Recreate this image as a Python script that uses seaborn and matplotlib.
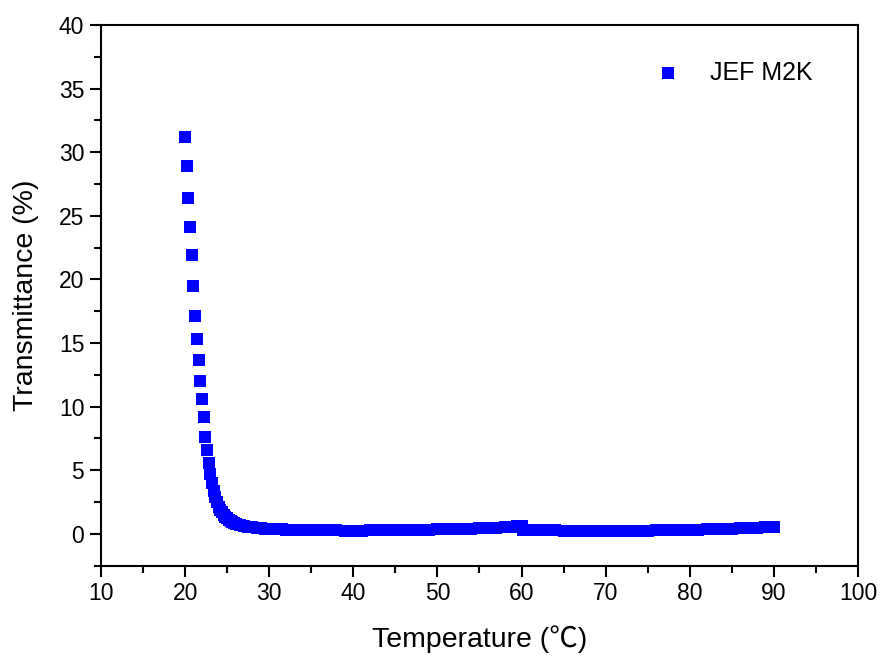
import pandas as pd
import seaborn as sns
import matplotlib.pyplot as plt
from matplotlib.ticker import MultipleLocator

# ============================================================
# Transmittance vs temperature (JEF M2K)
# ============================================================

temperature = [
    20.0, 20.2, 20.4, 20.6, 20.8, 21.0, 21.2, 21.4, 21.6, 21.8,
    22.0, 22.2, 22.4, 22.6, 22.8, 23.0, 23.2, 23.4, 23.6, 23.8,
    24.0, 24.2, 24.4, 24.6, 24.8, 25.0, 25.2, 25.4, 25.6, 25.8,
    26.0, 26.5, 27.0, 27.5, 28.0, 28.5, 29.0, 29.5, 30, 30.5,
    31, 31.5, 32, 33, 34, 35, 36, 37, 38, 39, 40, 41,
    42, 43, 44, 45, 46, 47, 48, 49, 50, 51,
    52, 53, 54, 55, 56, 57, 58, 59, 59.5, 60.0,
    60.2, 60.5, 61, 62, 63, 64, 65, 66, 67, 68,
    69, 70, 71, 72, 73, 74, 75, 76, 77, 78,
    79, 80, 81, 82, 83, 84, 85, 86, 87, 88,
    89, 90,
]

transmittance = [
    31.2, 28.9, 26.4, 24.1, 21.9, 19.5, 17.1, 15.3, 13.7, 12.0,
    10.6, 9.2, 7.65, 6.6, 5.6, 4.7, 4.0, 3.4, 2.9, 2.5,
    2.15, 1.9, 1.7, 1.5, 1.35, 1.22, 1.1, 1.0, 0.93, 0.86,
    0.8, 0.7, 0.62, 0.56, 0.51, 0.47, 0.44, 0.41, 0.39, 0.37,
    0.36, 0.35, 0.34, 0.32, 0.30, 0.29, 0.28, 0.27, 0.27, 0.26, 0.26, 0.26,
    0.27, 0.27, 0.28, 0.29, 0.30, 0.31, 0.33, 0.34, 0.36, 0.37,
    0.39, 0.41, 0.42, 0.44, 0.46, 0.49, 0.52, 0.56, 0.59, 0.62,
    0.32, 0.31, 0.30, 0.29, 0.28, 0.27, 0.26, 0.25, 0.25, 0.24,
    0.24, 0.24, 0.24, 0.24, 0.25, 0.25, 0.26, 0.27, 0.28, 0.29,
    0.30, 0.32, 0.33, 0.35, 0.37, 0.39, 0.41, 0.43, 0.46, 0.49,
    0.52, 0.56,
]

df = pd.DataFrame({"Temperature": temperature, "Transmittance": transmittance})

# ============================================================
# Style
# ============================================================

sns.set_style("ticks")
plt.rcParams['font.family'] = ['Liberation Sans', 'Noto Sans CJK SC', 'DejaVu Sans']
plt.rcParams['text.color'] = "black"
plt.rcParams['axes.labelcolor'] = "black"
plt.rcParams['xtick.color'] = "black"
plt.rcParams['ytick.color'] = "black"

fig = plt.figure(figsize=(8.81, 6.57), dpi=100)
ax = fig.add_axes([0.1146, 0.139, 0.8593, 0.8229])

sns.scatterplot(
    data=df, x="Temperature", y="Transmittance",
    marker="s", s=85, color="#0000ff", linewidth=0,
    label="JEF M2K", ax=ax,
)

# ============================================================
# Axes
# ============================================================

ax.set_xlim(10, 100)
ax.set_ylim(-2.5, 40)
ax.xaxis.set_major_locator(MultipleLocator(10))
ax.xaxis.set_minor_locator(MultipleLocator(5))
ax.yaxis.set_major_locator(MultipleLocator(5))
ax.yaxis.set_minor_locator(MultipleLocator(2.5))

for side in ["top", "right", "bottom", "left"]:
    ax.spines[side].set_visible(True)
    ax.spines[side].set_linewidth(1.5)
    ax.spines[side].set_color("black")

ax.tick_params(which="major", direction="out", length=8, width=1.5,
               labelsize=16.5, colors="black", pad=4)
ax.tick_params(which="minor", direction="out", length=5, width=1.5,
               colors="black")
ax.tick_params(top=False, right=False, which="both")

ax.set_xlabel("Temperature (℃)", fontsize=20.5, labelpad=14)
ax.set_ylabel("Transmittance (%)", fontsize=20.5, labelpad=14)

leg = ax.legend(loc="upper right", bbox_to_anchor=(0.97, 0.975),
                frameon=False, fontsize=18, handletextpad=0.7,
                markerscale=1.0)

plt.savefig("out.png", dpi=100)
